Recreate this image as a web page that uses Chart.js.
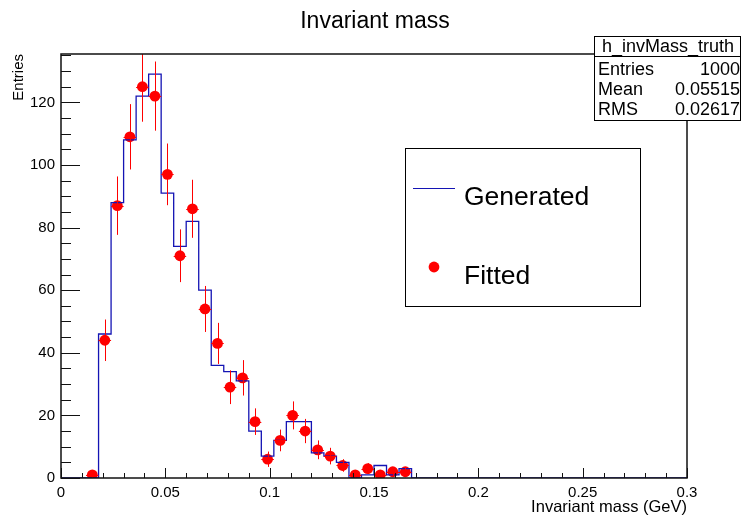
<!DOCTYPE html>
<html>
<head>
<meta charset="utf-8">
<title>Invariant mass</title>
<script src="https://cdn.jsdelivr.net/npm/chart.js@4.4.1/dist/chart.umd.min.js"></script>
<style>
  html, body { margin: 0; padding: 0; background: #fff; }
  #wrap { width: 742px; height: 515px; }
</style>
</head>
<body>
<div id="wrap"><canvas id="mass" width="742" height="515"></canvas></div>
<script>
// binning of the histogram: 50 bins between 0 and 0.3 GeV
const xMin = 0
const xMax = 0.3
const nBins = 50
const binWidth = (xMax - xMin) / nBins
const yMax = 135.45

// "Generated" (h_invMass_truth), one value per bin
const generated = [
  0, 0, 0, 46, 88, 108, 122, 129, 91, 74,
  82, 60, 36, 34, 31, 15, 7, 12, 18, 18,
  8, 7, 5, 0, 1, 4, 1, 3, 0, 0,
  0, 0, 0, 0, 0, 0, 0, 0, 0, 0,
  0, 0, 0, 0, 0, 0, 0, 0, 0, 0
]

// "Fitted" points, starting at bin 2 (centre 0.015)
const firstFittedBin = 2
const fitted = [1, 44, 87, 109, 125, 122, 97, 71, 86, 54, 43, 29, 32, 18, 6, 12, 20, 15, 9, 7, 4, 1, 3, 1, 2, 2]

// axis ticks
const xTicks = [0, 0.05, 0.1, 0.15, 0.2, 0.25, 0.3]
const xTickLabels = ['0', '0.05', '0.1', '0.15', '0.2', '0.25', '0.3']
const yTicks = [0, 20, 40, 60, 80, 100, 120]
const yTickLabels = ['0', '20', '40', '60', '80', '100', '120']

// title, stats box and legend
const titleText = 'Invariant mass'
const statsName = 'h_invMass_truth'
const statsLabels = ['Entries', 'Mean', 'RMS']
const statsValues = ['1000', '0.05515', '0.02617']
const legendLabels = ['Generated', 'Fitted']

const FONT = "'Liberation Sans', Arial, Helvetica, sans-serif"
const BLUE = '#1414b4'
const RED = '#ff0000'

// step line: one point per left bin edge, plus the closing edge
const genPoints = generated.map((v, i) => ({x: xMin + i * binWidth, y: v}))
genPoints.push({x: xMax, y: generated[nBins - 1]})

const fitPoints = fitted.map((v, i) => ({x: xMin + (firstFittedBin + i + 0.5) * binWidth, y: v}))

const rootStyle = {
    id: 'rootStyle',
    afterDatasetDraw(chart, args) {
        // error bars (sqrt(N) and bin width) over the histogram, under the markers
        if (args.index !== 0) return
        const {ctx, chartArea: a, scales: {x, y}} = chart
        ctx.save()
        ctx.beginPath()
        ctx.rect(a.left, a.top, a.right - a.left, a.bottom - a.top)
        ctx.clip()
        ctx.strokeStyle = RED
        ctx.lineWidth = 1
        fitPoints.forEach(p => {
            const err = Math.sqrt(p.y)
            const px = Math.round(x.getPixelForValue(p.x)) + 0.5
            const py = Math.round(y.getPixelForValue(p.y)) + 0.5
            ctx.beginPath()
            ctx.moveTo(px, y.getPixelForValue(p.y - err))
            ctx.lineTo(px, y.getPixelForValue(p.y + err))
            ctx.moveTo(x.getPixelForValue(p.x - binWidth / 2), py)
            ctx.lineTo(x.getPixelForValue(p.x + binWidth / 2), py)
            ctx.stroke()
        })
        ctx.restore()
    },
    afterDraw(chart) {
        const {ctx, chartArea: a, scales: {x, y}} = chart
        ctx.save()

        // frame
        ctx.strokeStyle = '#111'
        ctx.lineWidth = 1.5
        ctx.strokeRect(a.left, a.top, a.right - a.left, a.bottom - a.top)

        // inward ticks, majors and minors
        ctx.lineWidth = 1
        ctx.beginPath()
        for (let i = 0; i <= 30; i++) {
            const px = Math.round(x.getPixelForValue(i * 0.01)) + 0.5
            const len = i % 5 === 0 ? 10 : 5
            ctx.moveTo(px, a.bottom)
            ctx.lineTo(px, a.bottom - len)
        }
        for (let i = 0; i * 5 <= yMax; i++) {
            const py = Math.round(y.getPixelForValue(i * 5)) + 0.5
            const len = i % 4 === 0 ? 19 : 10
            ctx.moveTo(a.left, py)
            ctx.lineTo(a.left + len, py)
        }
        ctx.stroke()

        // title
        ctx.fillStyle = '#000'
        ctx.font = '23px ' + FONT
        ctx.textAlign = 'center'
        ctx.textBaseline = 'alphabetic'
        ctx.fillText(titleText, 375, 28)

        // legend
        ctx.fillStyle = '#fff'
        ctx.fillRect(405.5, 148.5, 235, 158)
        ctx.strokeStyle = '#000'
        ctx.lineWidth = 1
        ctx.strokeRect(405.5, 148.5, 235, 158)
        ctx.strokeStyle = BLUE
        ctx.beginPath()
        ctx.moveTo(413, 188.5)
        ctx.lineTo(455, 188.5)
        ctx.stroke()
        ctx.fillStyle = RED
        ctx.beginPath()
        ctx.arc(434, 267, 5.4, 0, Math.PI * 2)
        ctx.fill()
        ctx.fillStyle = '#000'
        ctx.font = '26.5px ' + FONT
        ctx.textAlign = 'left'
        ctx.fillText(legendLabels[0], 464, 205)
        ctx.fillText(legendLabels[1], 464, 284)

        // stats box
        ctx.fillStyle = '#fff'
        ctx.fillRect(594.5, 36.5, 146, 84)
        ctx.strokeStyle = '#000'
        ctx.strokeRect(594.5, 36.5, 146, 84)
        ctx.beginPath()
        ctx.moveTo(594.5, 56.5)
        ctx.lineTo(740.5, 56.5)
        ctx.stroke()
        ctx.fillStyle = '#000'
        ctx.font = '18px ' + FONT
        ctx.textAlign = 'center'
        ctx.fillText(statsName, 668, 52)
        statsLabels.forEach((lab, i) => {
            const base = 75 + i * 20
            ctx.textAlign = 'left'
            ctx.fillText(lab, 598, base)
            ctx.textAlign = 'right'
            ctx.fillText(statsValues[i], 740, base)
        })
        ctx.restore()
    }
}

const mass = document.getElementById('mass').getContext('2d')

new Chart(mass, {
    data: {
        datasets: [{
            type: 'line',
            label: legendLabels[0],
            data: genPoints,
            stepped: 'before',
            borderColor: BLUE,
            borderWidth: 1.3,
            pointRadius: 0,
            fill: false
        }, {
            type: 'scatter',
            label: legendLabels[1],
            data: fitPoints,
            pointRadius: 5.4,
            pointHoverRadius: 5.4,
            backgroundColor: RED,
            borderWidth: 0
        }]
    },
    options: {
        responsive: false,
        animation: false,
        events: [],
        layout: {
            padding: {left: 0, right: 55, top: 54, bottom: 0}
        },
        scales: {
            x: {
                type: 'linear',
                min: xMin,
                max: xMax,
                grid: {display: false, drawTicks: false},
                border: {display: false},
                afterBuildTicks: scale => { scale.ticks = xTicks.map(v => ({value: v})) },
                afterFit: scale => { scale.height = 37 },
                ticks: {
                    padding: 6,
                    color: '#000',
                    font: {family: FONT, size: 15},
                    maxRotation: 0,
                    callback: (v, i) => xTickLabels[i]
                },
                title: {
                    display: true,
                    text: 'Invariant mass (GeV)',
                    align: 'end',
                    color: '#000',
                    font: {family: FONT, size: 16.5, lineHeight: 1},
                    padding: {top: 0, bottom: -1}
                }
            },
            y: {
                type: 'linear',
                min: 0,
                max: yMax,
                grid: {display: false, drawTicks: false},
                border: {display: false},
                afterBuildTicks: scale => { scale.ticks = yTicks.map(v => ({value: v})) },
                afterFit: scale => { scale.width = 61 },
                ticks: {
                    padding: 6,
                    color: '#000',
                    font: {family: FONT, size: 15},
                    callback: (v, i) => yTickLabels[i]
                },
                title: {
                    display: true,
                    text: 'Entries',
                    align: 'end',
                    color: '#000',
                    font: {family: FONT, size: 15, lineHeight: 1.2},
                    padding: {top: 10, bottom: 0}
                }
            }
        },
        plugins: {
            legend: {display: false},
            tooltip: {enabled: false},
            title: {display: false}
        }
    },
    plugins: [rootStyle]
});
</script>
</body>
</html>
